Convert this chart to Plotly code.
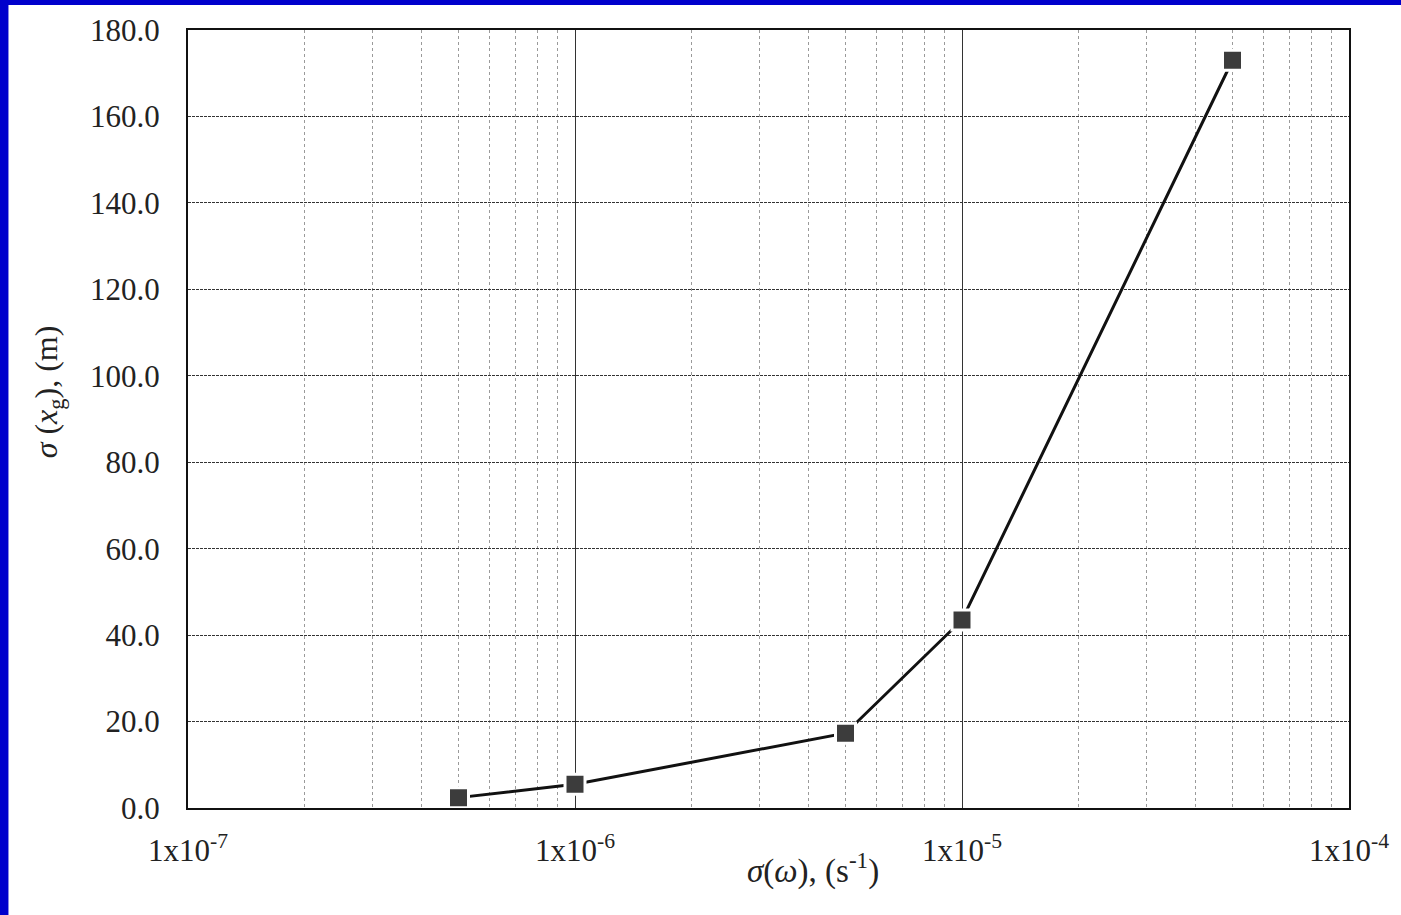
import plotly.graph_objects as go

# Data
sigma_omega = [5e-7, 1e-6, 5e-6, 1e-5, 5e-5]
sigma_xg = [2.4, 5.5, 17.3, 43.5, 173.0]

x_tickvals = [1e-7, 1e-6, 1e-5, 1e-4]
x_ticktext = ["1x10<sup>-7</sup>", "1x10<sup>-6</sup>", "1x10<sup>-5</sup>", "1x10<sup>-4</sup>"]
y_tickvals = [0, 20, 40, 60, 80, 100, 120, 140, 160, 180]
y_ticktext = [f"{v:.1f}" for v in y_tickvals]

minor_vals = [m * 10.0 ** e for e in (-7, -6, -5) for m in range(2, 10)]

FONT = "Liberation Serif, Times New Roman, serif"

W, H = 1401, 915
ML, MR, MT, MB = 188, 49, 30, 107
PW, PH = W - ML - MR, H - MT - MB

def px_x(p):
    return (p - ML) / PW

def px_y(p):
    return (H - MB - p) / PH

fig = go.Figure()
fig.add_trace(go.Scatter(
    x=sigma_omega, y=sigma_xg, mode="lines+markers",
    line=dict(color="#111111", width=3),
    marker=dict(symbol="square", size=20, color="#3c3c3c",
                line=dict(color="white", width=3)),
    showlegend=False, cliponaxis=False,
))

fig.update_layout(
    width=W, height=H,
    margin=dict(l=ML, r=MR, t=MT, b=MB),
    paper_bgcolor="white", plot_bgcolor="white",
    font=dict(family=FONT, color="#222222", size=31),
    xaxis=dict(
        type="log", range=[-7, -4],
        tickvals=x_tickvals, ticktext=x_ticktext,
        showgrid=True, gridcolor="#333333", gridwidth=1,
        minor=dict(tickvals=minor_vals, showgrid=True, gridcolor="#9a9a9a",
                   griddash="dot", gridwidth=1, ticks=""),
        showline=True, linecolor="#111111", linewidth=2, mirror=True,
        ticks="", ticklabelstandoff=14,
        tickfont=dict(family=FONT, size=31, color="#222222"),
        zeroline=False,
    ),
    yaxis=dict(
        range=[0, 180],
        tickvals=y_tickvals, ticktext=y_ticktext,
        showgrid=True, gridcolor="#333333", gridwidth=1, griddash="3px,1px",
        showline=True, linecolor="#111111", linewidth=2, mirror=True,
        ticks="", ticklabelstandoff=20,
        tickfont=dict(family=FONT, size=31, color="#222222"),
        zeroline=False,
    ),
    shapes=[
        dict(type="rect", xref="paper", yref="paper", layer="above",
             x0=px_x(-20), x1=px_x(8), y0=px_y(H + 20), y1=px_y(-20),
             fillcolor="#0000cc", line=dict(width=0)),
        dict(type="rect", xref="paper", yref="paper", layer="above",
             x0=px_x(-20), x1=px_x(W + 20), y0=px_y(5), y1=px_y(-20),
             fillcolor="#0000cc", line=dict(width=0)),
    ],
    annotations=[
        dict(text="<i>σ</i>(<i>ω</i>), (s<sup>-1</sup>)", xref="paper", yref="paper",
             x=px_x(815), y=px_y(868), xanchor="center", yanchor="middle",
             showarrow=False, font=dict(family=FONT, size=33, color="#222222")),
        dict(text="<i>σ</i> (<i>x</i><sub>g</sub>), (m)", xref="paper", yref="paper",
             x=px_x(48), y=px_y(392), xanchor="center", yanchor="middle",
             textangle=-90, showarrow=False,
             font=dict(family=FONT, size=32, color="#222222")),
    ],
)

fig.write_html(
    "out.html",
    config={"displayModeBar": False},
    post_script="document.body.style.margin='0';document.body.style.overflow='hidden';",
)
